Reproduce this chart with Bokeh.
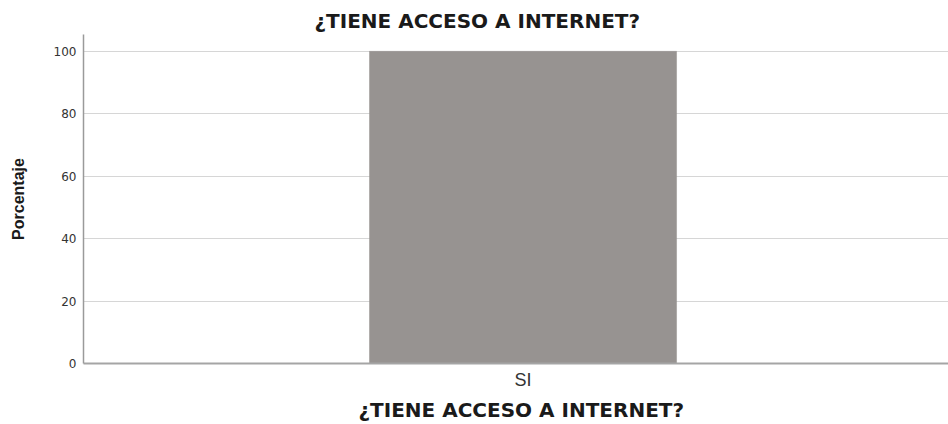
from bokeh.plotting import figure
from bokeh.models import Range1d, FixedTicker, Title, ColumnDataSource
from bokeh.embed import file_html
from bokeh.resources import INLINE

# Data
categories = ["SI"]
percentages = [100.0]
y_ticks = [0, 20, 40, 60, 80, 100]
title_text = "¿TIENE ACCESO A INTERNET?"
x_label = "¿TIENE ACCESO A INTERNET?"
y_label = "Porcentaje"

positions = list(range(len(categories)))
source = ColumnDataSource(dict(x=positions, top=percentages, cat=categories))

p = figure(width=948, height=424, output_backend="svg", toolbar_location=None,
           x_range=Range1d(-0.501, 0.485), y_range=Range1d(0, 105.4),
           min_border_left=83, min_border_right=0, min_border_top=34,
           min_border_bottom=60)

p.vbar(x="x", top="top", width=0.35, source=source,
       fill_color="#979391", line_color="#979391", line_width=0.5)

p.outline_line_color = None
p.background_fill_color = "white"
p.border_fill_color = "white"

# Title
p.title.text = title_text
p.title.text_font = "DejaVu Sans"
p.title.text_font_size = "20px"
p.title.text_font_style = "bold"
p.title.text_color = "#1a1a1a"
p.title.align = "left"
p.title.offset = 231
p.title.standoff = 4

# X axis
xa = p.xaxis[0]
xa.ticker = FixedTicker(ticks=positions)
xa.major_label_overrides = {i: c for i, c in zip(positions, categories)}
xa.major_tick_line_color = None
xa.minor_tick_line_color = None
xa.major_tick_out = 0
xa.axis_line_color = "#a5a5a5"
xa.axis_line_width = 2
xa.major_label_text_font = "Liberation Sans"
xa.major_label_text_font_size = "18px"
xa.major_label_text_color = "#333333"
xa.major_label_standoff = 6

p.add_layout(Title(text=x_label, align="left", offset=275, text_font="DejaVu Sans",
                   text_font_size="20px", text_font_style="bold",
                   text_color="#1a1a1a", standoff=6), "below")

# Y axis
ya = p.yaxis[0]
ya.ticker = FixedTicker(ticks=y_ticks)
ya.major_tick_line_color = None
ya.minor_tick_line_color = None
ya.major_tick_out = 0
ya.axis_line_color = "#9a9a9a"
ya.axis_line_width = 1.5
ya.major_label_text_font = "DejaVu Sans"
ya.major_label_text_font_size = "12px"
ya.major_label_text_color = "#333333"
ya.major_label_standoff = 7
ya.axis_label = y_label
ya.axis_label_text_font = "Liberation Sans"
ya.axis_label_text_font_size = "16px"
ya.axis_label_text_font_style = "bold"
ya.axis_label_text_color = "#1a1a1a"
ya.axis_label_standoff = 24

p.xgrid.grid_line_color = None
p.ygrid.ticker = FixedTicker(ticks=y_ticks)
p.ygrid.grid_line_color = "#d6d6d6"
p.ygrid.grid_line_width = 1

open("out.html", "w").write(file_html(p, INLINE))
